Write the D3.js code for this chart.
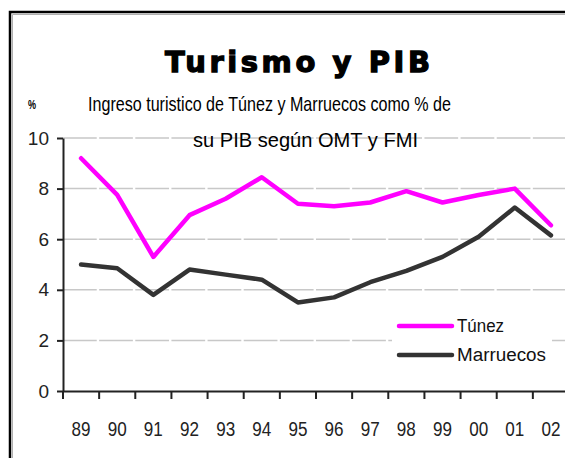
<!DOCTYPE html>
<html lang="es">

<head>
    <meta charset="UTF-8">
    <script src="https://cdn.jsdelivr.net/npm/d3@7/dist/d3.min.js" charset="utf-8"></script>
    <title>Turismo y PIB</title>
    <style>
        body { margin: 0; background: #fff; }
    </style>
</head>

<body>
    <script>
        var width = 565;
        var height = 458;

        // datos
        var years = ["89", "90", "91", "92", "93", "94", "95", "96", "97", "98", "99", "00", "01", "02"];
        var tunez = [9.2, 7.75, 5.3, 6.95, 7.6, 8.45, 7.4, 7.3, 7.45, 7.9, 7.45, 7.75, 8.0, 6.55];
        var marruecos = [5.0, 4.85, 3.8, 4.8, 4.6, 4.4, 3.5, 3.7, 4.3, 4.75, 5.3, 6.1, 7.25, 6.15];
        var yTicks = [0, 2, 4, 6, 8, 10];
        var seriesNames = ["Túnez", "Marruecos"];
        var seriesColors = ["#ff00ff", "#333333"];

        var plotLeft = 63, plotRight = 569, plotTop = 138, plotBottom = 391;

        var svg = d3.select("body").append("svg").attr("width", width).attr("height", height);

        // marco
        svg.append("path").attr("d", "M10," + height + "V12H" + width)
            .attr("fill", "none").attr("stroke", "#000").attr("stroke-width", 2.5);
        svg.append("path").attr("d", "M12.5," + height + "V14.5H" + width)
            .attr("fill", "none").attr("stroke", "#b0b0b0").attr("stroke-width", 1);

        var x = d3.scaleBand().domain(years).range([plotLeft, plotRight]).paddingInner(0).paddingOuter(0);
        var y = d3.scaleLinear().domain([0, 10]).range([plotBottom, plotTop]);

        // rejilla
        svg.append("g").selectAll("line").data(yTicks.filter(function (d) { return d > 0; })).enter().append("line")
            .attr("x1", plotLeft).attr("x2", width)
            .attr("y1", function (d) { return y(d); }).attr("y2", function (d) { return y(d); })
            .attr("stroke", "#c8c8c8").attr("stroke-width", 1.5)
            .attr("stroke-dasharray", (x.step() - 2.4) + " 2.4");

        // titulos
        svg.append("text").attr("x", 165).attr("y", 72).text("Turismo y PIB")
            .attr("font-family", "DejaVu Sans").attr("font-weight", "bold").attr("font-size", 29)
            .attr("textLength", 265).attr("lengthAdjust", "spacing")
            .attr("stroke", "#000").attr("stroke-width", 1.3).attr("fill", "#000");
        svg.append("text").attr("x", 88).attr("y", 111).text("Ingreso turistico de Túnez y Marruecos como % de")
            .attr("font-family", "Liberation Sans").attr("font-size", 21)
            .attr("textLength", 363).attr("lengthAdjust", "spacingAndGlyphs").attr("fill", "#000");
        svg.append("text").attr("x", 193).attr("y", 147).text("su PIB según OMT y FMI")
            .attr("font-family", "Liberation Sans").attr("font-size", 21)
            .attr("textLength", 225).attr("lengthAdjust", "spacingAndGlyphs").attr("fill", "#000");
        svg.append("text").attr("x", 28).attr("y", 109).text("%")
            .attr("font-family", "Liberation Sans").attr("font-size", 12).attr("font-weight", "bold")
            .attr("textLength", 8).attr("lengthAdjust", "spacingAndGlyphs");

        // eje y
        var yAxis = svg.append("g").attr("transform", "translate(" + plotLeft + ",0)")
            .call(d3.axisLeft(y).tickValues(yTicks).tickSize(6).tickPadding(8).tickSizeOuter(0));
        yAxis.select(".domain").attr("stroke", "#222").attr("stroke-width", 2);
        yAxis.selectAll(".tick line").attr("stroke", "#222").attr("stroke-width", 2);
        yAxis.selectAll("text").attr("font-family", "Liberation Sans").attr("font-size", 19).attr("fill", "#222");

        // eje x
        var xAxis = svg.append("g").attr("transform", "translate(0," + plotBottom + ")")
            .call(d3.axisBottom(x).tickSize(0).tickPadding(31));
        xAxis.select(".domain").attr("stroke", "#222").attr("stroke-width", 2);
        xAxis.selectAll("text").attr("font-family", "Liberation Sans").attr("font-size", 20).attr("fill", "#222")
            .attr("textLength", 19).attr("lengthAdjust", "spacingAndGlyphs");
        xAxis.selectAll(".xt").data(years).enter().append("line").attr("class", "xt")
            .attr("x1", function (d) { return x(d); }).attr("x2", function (d) { return x(d); })
            .attr("y1", 0).attr("y2", 8).attr("stroke", "#222").attr("stroke-width", 2);

        // lineas
        var line = d3.line()
            .x(function (d, i) { return x(years[i]) + x.bandwidth() / 2; })
            .y(function (d) { return y(d); });
        [tunez, marruecos].forEach(function (vals, k) {
            svg.append("path").datum(vals).attr("d", line)
                .attr("fill", "none").attr("stroke", seriesColors[k]).attr("stroke-width", 4.5)
                .attr("stroke-linejoin", "round").attr("stroke-linecap", "round");
        });

        // leyenda
        var legend = svg.append("g").attr("transform", "translate(392,310)");
        legend.append("rect").attr("width", 160).attr("height", 62).attr("fill", "#fff");
        var items = legend.selectAll(".item").data(seriesNames).enter().append("g")
            .attr("transform", function (d, i) { return "translate(0," + (16 + i * 29) + ")"; });
        items.append("line").attr("x1", 7).attr("x2", 60).attr("stroke-width", 4.5).attr("stroke-linecap", "round")
            .attr("stroke", function (d, i) { return seriesColors[i]; });
        items.append("text").attr("x", 65).attr("y", 6).text(function (d) { return d; })
            .attr("font-family", "Liberation Sans").attr("font-size", 18).attr("fill", "#111")
            .attr("textLength", function (d) { return d === "Túnez" ? 47 : 89; }).attr("lengthAdjust", "spacingAndGlyphs");
    </script>
</body>

</html>
